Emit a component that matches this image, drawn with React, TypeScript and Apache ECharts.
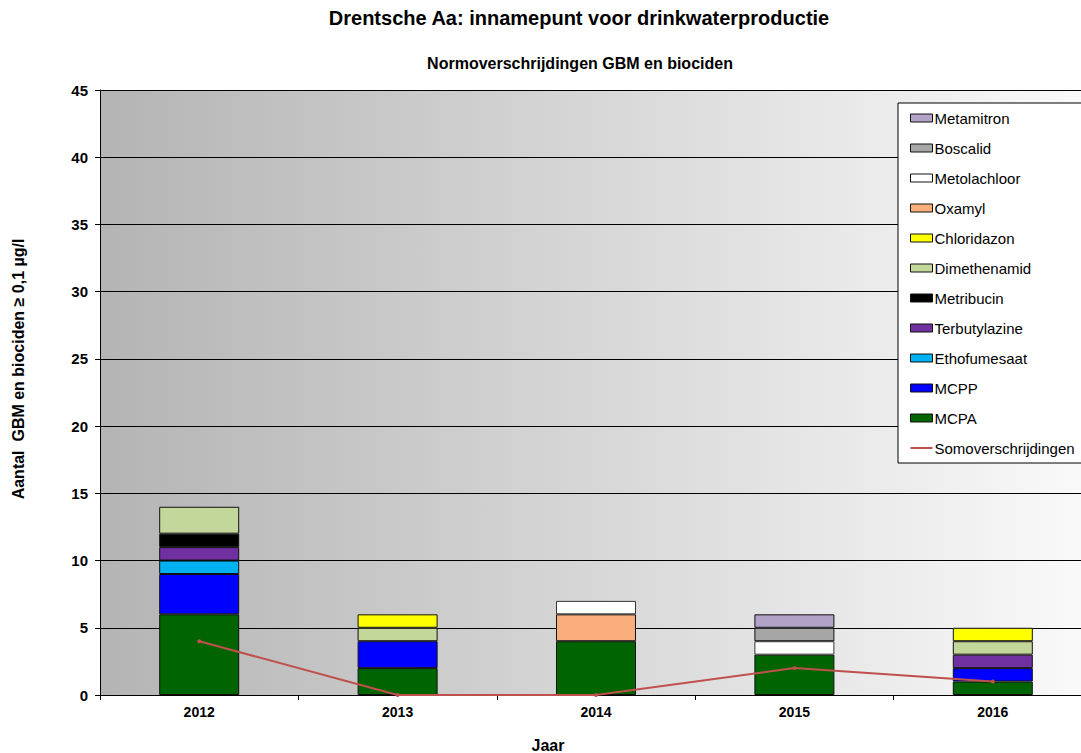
import React, { useEffect, useRef } from "react";
import * as echarts from "echarts";

const years = ["2012", "2013", "2014", "2015", "2016"];
const MCPA = [6, 2, 4, 3, 1];
const MCPP = [3, 2, 0, 0, 1];
const Ethofumesaat = [1, 0, 0, 0, 0];
const Terbutylazine = [1, 0, 0, 0, 1];
const Metribucin = [1, 0, 0, 0, 0];
const Dimethenamid = [2, 1, 0, 0, 1];
const Chloridazon = [0, 1, 0, 0, 1];
const Oxamyl = [0, 0, 2, 0, 0];
const Metolachloor = [0, 0, 1, 1, 0];
const Boscalid = [0, 0, 0, 1, 0];
const Metamitron = [0, 0, 0, 1, 0];
const Somoverschrijdingen = [4, 0, 0, 2, 1];
const yTicks = [0, 5, 10, 15, 20, 25, 30, 35, 40, 45];

const barSeries: [string, number[], string][] = [
  ["MCPA", MCPA, "#006400"],
  ["MCPP", MCPP, "#0000ff"],
  ["Ethofumesaat", Ethofumesaat, "#00b0f0"],
  ["Terbutylazine", Terbutylazine, "#7030a0"],
  ["Metribucin", Metribucin, "#000000"],
  ["Dimethenamid", Dimethenamid, "#c4d79b"],
  ["Chloridazon", Chloridazon, "#ffff00"],
  ["Oxamyl", Oxamyl, "#f8ad7b"],
  ["Metolachloor", Metolachloor, "#ffffff"],
  ["Boscalid", Boscalid, "#a6a6a6"],
  ["Metamitron", Metamitron, "#b3a2c7"],
];

const FONT = "Liberation Sans, Arial, sans-serif";

export default function App() {
  const ref = useRef<HTMLDivElement>(null);
  useEffect(() => {
    const chart = echarts.init(ref.current!, null, { renderer: "svg" });
    const series: any[] = barSeries.map(([name, data, color]) => ({
      name,
      type: "bar",
      stack: "total",
      barWidth: 80,
      data: data.map((v) => (v === 0 ? null : v)),
      itemStyle: { color, borderColor: color === "#ffffff" ? "#333" : "#111", borderWidth: 1 },
    }));
    series.push({
      name: "Somoverschrijdingen",
      type: "line",
      data: Somoverschrijdingen,
      symbol: "circle",
      symbolSize: 4,
      lineStyle: { color: "#c0504d", width: 2 },
      itemStyle: { color: "#c0504d" },
      z: 5,
    });
    const legendData: any[] = barSeries
      .map(([name]) => ({ name }))
      .reverse();
    legendData.push({
      name: "Somoverschrijdingen",
      icon: "path://M0,0 L22,0 L22,2 L0,2 Z",
      itemStyle: { borderWidth: 0, color: "#c0504d" },
    });
    chart.setOption({
      animation: false,
      textStyle: { fontFamily: FONT },
      grid: {
        left: 100,
        top: 90,
        width: 992,
        height: 605,
        show: true,
        borderWidth: 0,
        backgroundColor: new echarts.graphic.LinearGradient(0, 0, 1, 0, [
          { offset: 0, color: "#b4b4b4" },
          { offset: 1, color: "#fafafa" },
        ]),
      },
      xAxis: {
        type: "category",
        data: years,
        axisLine: { lineStyle: { color: "#000", width: 1 } },
        axisTick: { show: true, length: 5, lineStyle: { color: "#000" } },
        axisLabel: { color: "#000", fontWeight: "bold", fontSize: 14, margin: 10, fontFamily: FONT },
      },
      yAxis: {
        type: "value",
        min: yTicks[0],
        max: yTicks[yTicks.length - 1],
        interval: 5,
        axisLine: { show: true, lineStyle: { color: "#000", width: 1 } },
        axisTick: { show: true, length: 5, lineStyle: { color: "#000" } },
        axisLabel: { color: "#000", fontWeight: "bold", fontSize: 15, margin: 12, fontFamily: FONT },
        splitLine: { show: true, lineStyle: { color: "#000", width: 1 } },
      },
      legend: {
        orient: "vertical",
        left: 898,
        top: 103,
        padding: [6, 12, 6, 12],
        itemGap: 12,
        itemWidth: 22,
        itemHeight: 8,
        icon: "rect",
        backgroundColor: "#fff",
        borderColor: "#000",
        borderWidth: 1,
        itemStyle: { borderColor: "#111", borderWidth: 1 },
        textStyle: { fontSize: 15, color: "#000", fontFamily: FONT, lineHeight: 18, padding: [0, 0, 0, -3] },
        data: legendData,
      },
      graphic: [
        {
          type: "text",
          x: 579,
          y: 18,
          style: {
            text: "Drentsche Aa: innamepunt voor drinkwaterproductie",
            font: `bold 20px ${FONT}`,
            fill: "#000",
            textAlign: "center",
            textVerticalAlign: "middle",
          },
        },
        {
          type: "text",
          x: 580,
          y: 63,
          style: {
            text: "Normoverschrijdingen GBM en biociden",
            font: `bold 16px ${FONT}`,
            fill: "#000",
            textAlign: "center",
            textVerticalAlign: "middle",
          },
        },
        {
          type: "text",
          x: 548,
          y: 745,
          style: {
            text: "Jaar",
            font: `bold 16px ${FONT}`,
            fill: "#000",
            textAlign: "center",
            textVerticalAlign: "middle",
          },
        },
        {
          type: "text",
          x: 18,
          y: 369,
          rotation: Math.PI / 2,
          style: {
            text: "Aantal  GBM en biociden ≥ 0,1 µg/l",
            font: `bold 16px ${FONT}`,
            fill: "#000",
            textAlign: "center",
            textVerticalAlign: "middle",
          },
        },
      ],
      series,
    });
    return () => chart.dispose();
  }, []);
  return (
    <div
      style={{ position: "absolute", left: 0, top: 0, width: 1081, height: 753, overflow: "hidden", background: "#fff" }}
    >
      <div ref={ref} style={{ width: 1110, height: 753 }} />
    </div>
  );
}
